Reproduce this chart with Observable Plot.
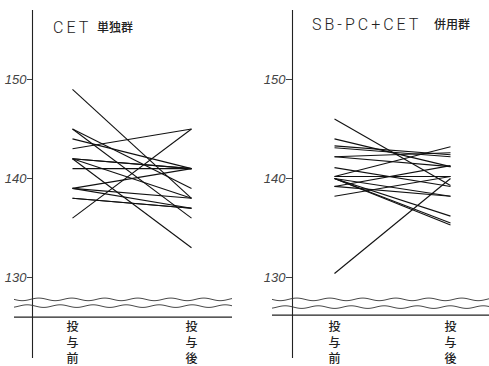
<!DOCTYPE html>
<html><head><meta charset="utf-8">
<script src="https://cdn.jsdelivr.net/npm/d3@7"></script>
<script src="https://cdn.jsdelivr.net/npm/@observablehq/plot@0.6"></script>
<style>
html,body{margin:0;padding:0;background:#fff}
#wrap{position:relative;width:489px;height:366px;overflow:hidden;background:#fff}
.panel{position:absolute;top:0}
.t{position:absolute;white-space:nowrap;color:#222;line-height:1}
.en{font-family:Roboto,"DejaVu Sans",sans-serif;font-weight:300;font-size:16px;letter-spacing:3px}
.ja{font-family:"Noto Sans CJK JP",sans-serif;font-weight:500;font-size:12px}
</style></head><body><div id="wrap"></div>
<script>
// categories and tick labels
const times = ["投与前", "投与後"];
const yTicks = [130, 140, 150];
const titles = [["CET", "単独群"], ["SB-PC+CET", "併用群"]];

// CET alone group: value before / after
const cetPre  = [149, 145, 145, 144, 143, 142, 142, 142, 142, 141, 139, 139, 139, 138, 138, 136];
const cetPost = [138, 136, 139, 141, 145, 141, 141, 133, 138, 141, 141, 138, 137, 137, 137, 145];

// SB-PC + CET combined group: value before / after
const combPre  = [146, 144, 143.3, 143.1, 142.2, 142.2, 141.1, 140.2, 140, 140, 140, 140.2, 139.2, 138.2, 139.2, 130.4, 140];
const combPost = [139.3, 141.2, 142.4, 142.2, 141.2, 142.6, 139.2, 143.2, 136.2, 135.5, 135.3, 140.2, 141.3, 140.2, 138.2, 140, 138.2];

// axis-break levels (y values of the two wavy lines and the baseline)
const breakLeft  = [127.74, 127.06, 126.0];
const breakRight = [127.74, 126.96, 126.2];

function waveMark(yValue, extendLeft, phase) {
  return (index, scales, values, dims) => {
    const y0 = scales.y(yValue);
    const x0 = dims.marginLeft - extendLeft, x1 = dims.width - dims.marginRight;
    const p = d3.path();
    for (let px = x0; px <= x1; px += 1) {
      const yy = y0 + 1.3 * Math.sin(((px - x0) / 33 + phase) * 2 * Math.PI);
      if (px === x0) p.moveTo(px, yy); else p.lineTo(px, yy);
    }
    return d3.create("svg:path").attr("d", p.toString()).attr("fill", "none")
      .attr("stroke", "#333").attr("stroke-width", 0.9).node();
  };
}

function panel({pre, post, width, marginLeft, marginRight, xRange, extendLeft, brk, tickSize}) {
  const rows = pre.map((v, i) => ({pre: v, post: post[i]}));
  return Plot.plot({
    width, height: 366,
    marginLeft, marginRight, marginTop: 10, marginBottom: 9,
    x: {type: "point", domain: times, range: xRange, padding: 0, axis: null},
    y: {domain: [130, 150], range: [277, 79], axis: null},
    style: {background: "transparent", overflow: "visible"},
    marks: [
      Plot.frame({anchor: "left", stroke: "#222", strokeWidth: 1.1}),
      Plot.axisY({ticks: yTicks, tickSize, tickPadding: 1, label: null, fontSize: 13,
        fontStyle: "italic", fontFamily: "Liberation Sans, sans-serif", color: "#444", stroke: "#444"}),
      waveMark(brk[0], extendLeft, 0),
      waveMark(brk[1], extendLeft, 0.35),
      Plot.ruleY([brk[2]], {insetLeft: -extendLeft, stroke: "#222", strokeWidth: 1.1}),
      Plot.link(rows, {x1: () => times[0], y1: "pre", x2: () => times[1], y2: "post",
        stroke: "#111", strokeWidth: 1.1}),
      Plot.text(times, {x: d => d, text: d => d.split("").join("\n"), frameAnchor: "bottom",
        lineAnchor: "bottom", dy: 5, lineHeight: 1.3, fontSize: 12, fill: "#222",
        fontFamily: "Noto Sans CJK JP, sans-serif", fontWeight: 500})
    ]
  });
}

const wrap = document.getElementById("wrap");
const left = panel({pre: cetPre, post: cetPost, width: 245, marginLeft: 32, marginRight: 13,
  xRange: [72, 191], extendLeft: 18, brk: breakLeft, tickSize: 5});
left.classList.add("panel"); left.style.left = "0px";
const right = panel({pre: combPre, post: combPost, width: 244, marginLeft: 47, marginRight: 0,
  xRange: [89, 205], extendLeft: 20, brk: breakRight, tickSize: 6});
right.classList.add("panel"); right.style.left = "245px";
wrap.append(left, right);

function addTitle(parts, x, yTop, jaX, jaTop) {
  const a = document.createElement("div"); a.className = "t en"; a.textContent = parts[0];
  a.style.left = x + "px"; a.style.top = yTop + "px";
  const b = document.createElement("div"); b.className = "t ja"; b.textContent = parts[1];
  b.style.left = jaX + "px"; b.style.top = jaTop + "px";
  wrap.append(a, b);
}
addTitle(titles[0], 53, 20, 97, 21);
addTitle(titles[1], 312, 17, 434, 18);
</script></body></html>
